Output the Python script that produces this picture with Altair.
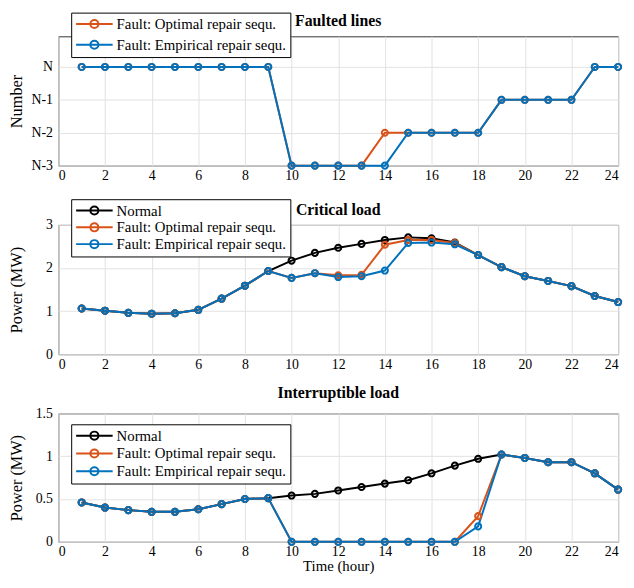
import altair as alt
import pandas as pd

hours = [1, 2, 3, 4, 5, 6, 7, 8, 9, 10, 11, 12, 13, 14, 15, 16, 17, 18, 19, 20, 21, 22, 23, 24]
x_ticks = [0, 2, 4, 6, 8, 10, 12, 14, 16, 18, 20, 22, 24]

NORMAL = "Normal"
OPTIMAL = "Fault: Optimal repair sequ."
EMPIRICAL = "Fault: Empirical repair sequ."
series_colors = {NORMAL: "#000000", OPTIMAL: "#D95319", EMPIRICAL: "#0072BD"}

# Faulted lines (0 = N, -1 = N-1, ...)
faulted_optimal = [0, 0, 0, 0, 0, 0, 0, 0, 0, -3, -3, -3, -3, -2, -2, -2, -2, -2, -1, -1, -1, -1, 0, 0]
faulted_empirical = [0, 0, 0, 0, 0, 0, 0, 0, 0, -3, -3, -3, -3, -3, -2, -2, -2, -2, -1, -1, -1, -1, 0, 0]
faulted_ticks = [-3, -2, -1, 0]

# Critical load (MW)
critical_normal = [1.06, 1.01, 0.96, 0.94, 0.95, 1.03, 1.29, 1.59, 1.93, 2.17, 2.35, 2.47,
                   2.56, 2.65, 2.71, 2.69, 2.59, 2.30, 2.02, 1.81, 1.70, 1.58, 1.35, 1.21]
critical_optimal = [1.06, 1.01, 0.96, 0.94, 0.95, 1.03, 1.29, 1.59, 1.93, 1.77, 1.88, 1.83,
                    1.84, 2.54, 2.65, 2.65, 2.58, 2.30, 2.02, 1.81, 1.70, 1.58, 1.35, 1.21]
critical_empirical = [1.06, 1.01, 0.96, 0.94, 0.95, 1.03, 1.29, 1.59, 1.93, 1.77, 1.88, 1.79,
                      1.81, 1.94, 2.58, 2.59, 2.55, 2.30, 2.02, 1.81, 1.70, 1.58, 1.35, 1.21]
critical_ticks = [0, 1, 2, 3]

# Interruptible load (MW)
interr_normal = [0.46, 0.40, 0.37, 0.35, 0.35, 0.38, 0.44, 0.50, 0.51, 0.54, 0.56, 0.60,
                 0.64, 0.68, 0.72, 0.80, 0.89, 0.97, 1.02, 0.98, 0.93, 0.93, 0.80, 0.61]
interr_optimal = [0.46, 0.40, 0.37, 0.35, 0.35, 0.38, 0.44, 0.50, 0.51, 0.0, 0.0, 0.0,
                  0.0, 0.0, 0.0, 0.0, 0.0, 0.30, 1.02, 0.98, 0.93, 0.93, 0.80, 0.61]
interr_empirical = [0.46, 0.40, 0.37, 0.35, 0.35, 0.38, 0.44, 0.50, 0.51, 0.0, 0.0, 0.0,
                    0.0, 0.0, 0.0, 0.0, 0.0, 0.18, 1.02, 0.98, 0.93, 0.93, 0.80, 0.61]
interr_ticks = [0, 0.5, 1, 1.5]

FONT = "Liberation Serif, Times New Roman, serif"
SYMBOL = "M-1,0L1,0M0.22,0A0.22,0.22,0,1,1,-0.22,0A0.22,0.22,0,1,1,0.22,0"


def frame(series):
    rows = []
    for name, vals in series:
        for h, v in zip(hours, vals):
            rows.append({"hour": h, "value": v, "series": name})
    return pd.DataFrame(rows)


def panel(series, ydomain, yaxis, title, title_dy, xtitle, legend_y, row_pad, height):
    names = [n for n, _ in series]
    df = frame(series)
    legend = alt.Legend(
        title=None, orient="none", legendX=13, legendY=legend_y, direction="vertical",
        symbolType=SYMBOL, symbolSize=1369, symbolStrokeWidth=2,
        symbolFillColor="transparent", clipHeight=15, rowPadding=row_pad,
        padding=4, labelOffset=3, labelFont=FONT, labelFontSize=15,
        labelColor="black", strokeColor="black", fillColor="white", labelLimit=0,
    )
    return alt.Chart(df).mark_line(
        strokeWidth=2,
        point=alt.OverlayMarkDef(filled=False, size=38, strokeWidth=2),
    ).encode(
        x=alt.X("hour:Q", scale=alt.Scale(domain=[0, 24], nice=False),
                axis=alt.Axis(values=x_ticks, title=xtitle, labelFont=FONT, titleFont=FONT)),
        y=alt.Y("value:Q", scale=alt.Scale(domain=ydomain, nice=False, zero=False), axis=yaxis),
        color=alt.Color("series:N",
                        scale=alt.Scale(domain=names, range=[series_colors[n] for n in names]),
                        legend=legend),
    ).properties(
        width=567, height=height,
        title=alt.TitleParams(title, frame="group", font=FONT, fontSize=16, dy=title_dy,
                              fontWeight="bold", color="black", anchor="middle", offset=6),
    )


p1 = panel(
    [(OPTIMAL, faulted_optimal), (EMPIRICAL, faulted_empirical)],
    [-3, 0.93],
    alt.Axis(values=faulted_ticks, title="Number", labelFont=FONT, titleFont=FONT,
             labelExpr="datum.value == 0 ? 'N' : 'N' + datum.value"),
    "Faulted lines", 23, None, -24, 5, 131,
)
p2 = panel(
    [(NORMAL, critical_normal), (OPTIMAL, critical_optimal), (EMPIRICAL, critical_empirical)],
    [0, 3],
    alt.Axis(values=critical_ticks, title="Power (MW)", format="~g", labelFont=FONT, titleFont=FONT),
    "Critical load", 25, None, -26, 1, 131,
)
p3 = panel(
    [(NORMAL, interr_normal), (OPTIMAL, interr_optimal), (EMPIRICAL, interr_empirical)],
    [0, 1.5],
    alt.Axis(values=interr_ticks, title="Power (MW)", format="~g", labelFont=FONT, titleFont=FONT),
    "Interruptible load", 0, "Time (hour)", 11, 2, 130,
)

chart = alt.vconcat(p1, p2, p3, spacing=60, bounds="flush").resolve_scale(
    color="independent", y="independent"
).properties(
    padding={"left": 0, "top": 0, "right": 0, "bottom": 0}
).configure_axis(
    labelFont=FONT, labelFontSize=14, labelColor="black",
    titleFont=FONT, titleFontSize=15, titleFontWeight="normal", titleColor="black",
    grid=True, gridColor="#e2e2e2", gridWidth=1, domain=False, ticks=False,
).configure_axisY(
    minExtent=28, maxExtent=28, labelPadding=6, titlePadding=6, titleFontSize=16.5,
).configure_axisX(
    labelPadding=3, titlePadding=0,
).configure_title(
    font=FONT, fontSize=16, fontWeight="bold", color="black", anchor="middle", offset=6,
).configure_view(
    stroke="#333333", strokeWidth=1,
)

chart.save("out.html", embed_options={"renderer": "svg", "actions": False})
